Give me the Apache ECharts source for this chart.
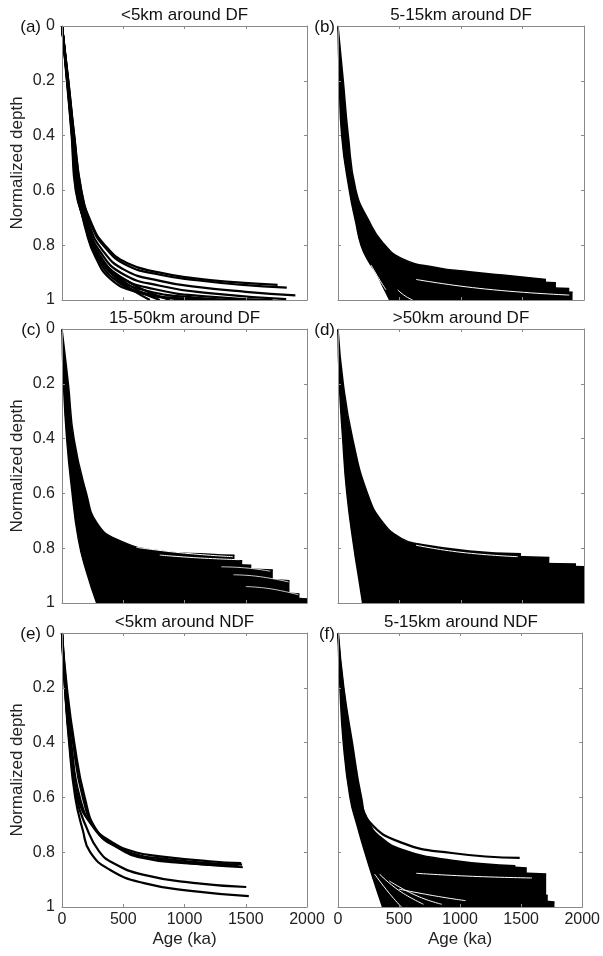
<!DOCTYPE html>
<html>
<head>
<meta charset="utf-8">
<script src="https://cdn.jsdelivr.net/npm/echarts@6/dist/echarts.min.js"></script>
<style>
  html, body { margin: 0; padding: 0; background: #fff; }
  #chart { width: 603px; height: 956px; }
</style>
</head>
<body>
<div id="chart"></div>
<script>
// axis ticks
const ageTicks = [0, 500, 1000, 1500, 2000];
const depthTicks = [0, 0.2, 0.4, 0.6, 0.8, 1];
const panelTitles = ['<5km around DF', '5-15km around DF', '15-50km around DF', '>50km around DF', '<5km around NDF', '5-15km around NDF'];
const panelLetters = ['(a)', '(b)', '(c)', '(d)', '(e)', '(f)'];

// (a) individual age-depth curves [age ka, normalized depth]
const a1 = [[0,0],[52,0.2],[100,0.4],[158,0.6],[240,0.72],[350,0.8],[530,0.865],[800,0.9],[1070,0.92],[1400,0.935],[1760,0.945]];
const a2 = [[0,0],[51,0.2],[99,0.4],[156,0.6],[236,0.722],[345,0.805],[525,0.872],[800,0.908],[1100,0.928],[1450,0.944],[1835,0.955]];
const a3 = [[0,0],[49,0.2],[96,0.4],[150,0.6],[225,0.728],[325,0.815],[510,0.89],[800,0.93],[1100,0.952],[1500,0.97],[1905,0.983]];
const a4 = [[0,0],[48,0.2],[94,0.4],[146,0.6],[218,0.733],[310,0.823],[490,0.903],[800,0.948],[1200,0.975],[1830,0.997]];
const a5 = [[0,0],[47,0.2],[92,0.4],[142,0.6],[212,0.737],[300,0.83],[470,0.913],[750,0.96],[1200,0.988],[1720,1.0]];
const a6 = [[0,0],[46,0.2],[90,0.4],[136,0.6],[205,0.742],[290,0.836],[450,0.92],[700,0.967],[1100,0.992],[1500,1.0]];
const a7 = [[0,0],[45,0.2],[87,0.4],[130,0.6],[200,0.745],[282,0.84],[430,0.925],[650,0.972],[1000,0.995],[1340,1.0]];
const a8 = [[0,0],[44,0.2],[85,0.4],[125,0.6],[198,0.75],[275,0.845],[400,0.925],[600,0.97],[850,0.992],[1124,1.0]];
const a9 = [[0,0],[43,0.2],[83,0.4],[120,0.6],[195,0.73],[265,0.81],[370,0.885],[527,0.93],[700,0.97],[880,1.0]];
const a10 = [[0,0],[42,0.2],[81,0.4],[116,0.6],[192,0.725],[260,0.805],[360,0.875],[480,0.925],[640,0.97],[798,1.0]];
const a11 = [[0,0],[40,0.2],[79,0.4],[112,0.6],[190,0.72],[255,0.8],[350,0.87],[445,0.921],[580,0.965],[717,1.0]];

// (b) dense bundle: upper edge, curve tails, left edge, white gaps
const bUpper = [[0,0],[43,0.2],[84,0.4],[146,0.6],[255,0.714],[363,0.79],[526,0.85],[797,0.881],[1068,0.897],[1339,0.909],[1691,0.925]];
const bTail1 = [[900,0.905],[1300,0.925],[1772,0.937]];
const bTail2 = [[900,0.925],[1400,0.948],[1880,0.958]];
const bTail3 = [[1000,0.945],[1500,0.962],[1907,0.972]];
const bTail4 = [[1000,0.96],[1500,0.975],[1900,0.985]];
const bTail5 = [[1000,0.975],[1500,0.99],[1880,0.997]];
const bLeft = [[0,0],[11,0.2],[30,0.4],[92,0.6],[146,0.72],[187,0.8],[250,0.86],[309,0.9],[365,0.95],[420,1.0]];
const bGap1 = [[634,0.925],[1200,0.96],[1880,0.982]];
const bGap2 = [[268,0.872],[330,0.92],[390,0.963]];
const bGap3 = [[485,0.963],[545,0.985],[607,1.0]];

// (c)
const cUpper = [[0,0],[52,0.2],[98,0.4],[200,0.6],[283,0.706],[445,0.767],[796,0.81],[1204,0.822],[1408,0.826]];
const cTail1 = [[700,0.83],[1100,0.84],[1471,0.846]];
const cTail2 = [[700,0.845],[1100,0.855],[1545,0.862]];
const cTail3 = [[800,0.86],[1300,0.872],[1721,0.88]];
const cTail4 = [[800,0.87],[1200,0.882],[1612,0.891]];
const cTail5 = [[900,0.89],[1400,0.905],[1857,0.919]];
const cTail6 = [[900,0.905],[1400,0.925],[1802,0.937]];
const cTail7 = [[1000,0.93],[1500,0.952],[1938,0.967]];
const cTail8 = [[1000,0.95],[1500,0.97],[2000,0.985]];
const cLeft = [[0,0],[12,0.2],[38,0.4],[79,0.585],[133,0.767],[201,0.888],[283,1.0]];
const cGap1 = [[608,0.797],[1000,0.818],[1395,0.831]];
const cGap2 = [[798,0.825],[1100,0.835],[1450,0.842]];
const cGap3 = [[1300,0.868],[1500,0.872],[1700,0.884]];
const cGap4 = [[1400,0.897],[1600,0.903],[1850,0.923]];
const cGap5 = [[1500,0.94],[1700,0.948],[1930,0.97]];

// (d)
const dUpper = [[0,0],[43,0.2],[119,0.4],[240,0.6],[365,0.706],[526,0.767],[661,0.785],[1068,0.81],[1487,0.82]];
const dTail1 = [[900,0.815],[1300,0.828],[1718,0.834]];
const dTail2 = [[900,0.83],[1400,0.85],[1935,0.858]];
const dTail3 = [[1000,0.845],[1500,0.86],[2000,0.868]];
const dLeft = [[0,0],[11,0.2],[38,0.4],[72,0.6],[130,0.8],[165,0.9],[200,1.0]];
const dGap1 = [[634,0.789],[1000,0.815],[1461,0.831]];

// (e) individual curves
const e1 = [[0,0],[24,0.2],[65,0.4],[130,0.6],[255,0.706],[418,0.766],[600,0.8],[800,0.815],[1205,0.833],[1463,0.84]];
const e2 = [[0,0],[28,0.2],[75,0.4],[145,0.6],[265,0.715],[430,0.775],[620,0.81],[800,0.822],[1200,0.84],[1470,0.845]];
const e3 = [[0,0],[35,0.2],[90,0.4],[170,0.6],[280,0.72],[450,0.78],[640,0.815],[800,0.828],[1200,0.846],[1476,0.855]];
const e4 = [[0,0],[40,0.2],[100,0.4],[185,0.6],[290,0.725],[460,0.785],[650,0.82],[1000,0.84],[1440,0.85]];
const e5 = [[0,0],[26,0.2],[62,0.4],[118,0.6],[200,0.71],[300,0.795],[420,0.84],[660,0.882],[1070,0.912],[1504,0.927]];
const e6 = [[0,0],[24,0.2],[58,0.4],[108,0.6],[170,0.72],[230,0.8],[390,0.864],[660,0.912],[1070,0.942],[1525,0.96]];

// (f)
const fTop = [[0,0],[45,0.2],[115,0.4],[190,0.6],[255,0.688],[526,0.766],[932,0.803],[1488,0.821]];
const fUpper = [[0,0],[44,0.2],[110,0.4],[182,0.6],[260,0.695],[336,0.74],[526,0.79],[932,0.829],[1452,0.849]];
const fTail1 = [[800,0.835],[1200,0.848],[1546,0.858]];
const fTail2 = [[800,0.85],[1300,0.87],[1705,0.88]];
const fTail3 = [[800,0.865],[1200,0.88],[1638,0.893]];
const fTail4 = [[900,0.885],[1300,0.905],[1692,0.925]];
const fTail5 = [[900,0.9],[1300,0.93],[1718,0.958]];
const fTail6 = [[900,0.93],[1400,0.965],[1773,0.982]];
const fTail7 = [[900,0.95],[1300,0.98],[1640,0.998]];
const fLeft = [[0,0],[16,0.2],[43,0.4],[98,0.6],[155,0.7],[220,0.8],[290,0.9],[365,1.0]];
const fGap1 = [[300,0.88],[420,0.95],[520,1.0]];
const fGap2 = [[340,0.88],[500,0.94],[700,0.99]];
const fGap3 = [[420,0.905],[650,0.96],[850,0.99]];
const fGap4 = [[640,0.877],[1100,0.888],[1588,0.894]];
const fGap5 = [[500,0.935],[800,0.96],[1046,0.977]];

const FONT = '"Liberation Sans", Arial, Helvetica, sans-serif';
const AXIS_GRAY = '#8a8a8a';
const TEXT = '#222';

const colLeft = [62, 338];
const colWidth = [245, 246];
const rowTop = [26, 329, 633];
const plotH = 274;

let grids = [], xAxes = [], yAxes = [], series = [], graphics = [];

for (let i = 0; i < 6; i++) {
  const col = i % 2, row = Math.floor(i / 2);
  grids.push({ left: colLeft[col], top: rowTop[row], width: colWidth[col], height: plotH });
  const bottomRow = row === 2, leftCol = col === 0;
  const baseAxis = {
    type: 'value', gridIndex: i, z: 5,
    axisLine: { show: true, onZero: false, lineStyle: { color: AXIS_GRAY, width: 1 } },
    axisTick: { show: true, inside: true, length: 3, lineStyle: { color: AXIS_GRAY } },
    splitLine: { show: false }
  };
  xAxes.push(Object.assign({}, baseAxis, {
    position: 'bottom', min: ageTicks[0], max: ageTicks[ageTicks.length - 1], interval: 500,
    axisLabel: { show: bottomRow, fontSize: 16, color: TEXT, margin: 5, fontFamily: FONT, formatter: v => String(v) },
    name: bottomRow ? 'Age (ka)' : '', nameLocation: 'middle', nameGap: 24,
    nameTextStyle: { fontSize: 17, color: TEXT, fontFamily: FONT }
  }));
  xAxes.push(Object.assign({}, baseAxis, {
    position: 'top', min: 0, max: 2000, interval: 500, axisLabel: { show: false }
  }));
  yAxes.push(Object.assign({}, baseAxis, {
    position: 'left', inverse: true, min: depthTicks[0], max: depthTicks[depthTicks.length - 1], interval: 0.2,
    axisLabel: { show: leftCol, fontSize: 16, color: TEXT, margin: 7, fontFamily: FONT },
    name: leftCol ? 'Normalized depth' : '', nameLocation: 'middle', nameGap: 36,
    nameTextStyle: { fontSize: 17, color: TEXT, fontFamily: FONT }
  }));
  yAxes.push(Object.assign({}, baseAxis, {
    position: 'right', inverse: true, min: 0, max: 1, interval: 0.2, axisLabel: { show: false }
  }));

  const cx = colLeft[col] + colWidth[col] / 2;
  graphics.push({ type: 'text', x: cx, y: rowTop[row] - 11,
    style: { text: panelTitles[i], font: '17px ' + FONT, fill: '#111', textAlign: 'center', textVerticalAlign: 'middle' } });
  graphics.push({ type: 'text', x: leftCol ? 41 : colLeft[col] - 3, y: rowTop[row] + 1,
    style: { text: panelLetters[i], font: '17px ' + FONT, fill: '#111', textAlign: 'right', textVerticalAlign: 'middle' } });
}

function curve(panel, data, opt) {
  opt = opt || {};
  const s = {
    type: 'line', xAxisIndex: panel * 2, yAxisIndex: panel * 2, data: data,
    showSymbol: false, silent: true, smooth: 0.5,
    lineStyle: { color: opt.color || '#000', width: opt.width || 2 }, z: opt.z || 2
  };
  if (opt.fill) s.areaStyle = { color: opt.fill, opacity: 1, origin: 'end' };
  return s;
}

// (a)
[a1, a2, a3, a4, a5, a6, a7, a8, a9, a10, a11].forEach(c => series.push(curve(0, c, { width: 2.2 })));
// (b)
[bUpper, bTail1, bTail2, bTail3, bTail4, bTail5].forEach(c => series.push(curve(1, c, { width: 1.5, fill: '#000' })));
series.push(curve(1, bLeft, { width: 1.5, fill: '#fff', z: 3 }));
[bGap1, bGap2, bGap3].forEach(c => series.push(curve(1, c, { color: '#fff', width: 1, z: 4 })));
// (c)
[cUpper, cTail1, cTail2, cTail3, cTail4, cTail5, cTail6, cTail7, cTail8].forEach(c => series.push(curve(2, c, { width: 1.5, fill: '#000' })));
series.push(curve(2, cLeft, { width: 1.5, fill: '#fff', z: 3 }));
[cGap1, cGap2].forEach(c => series.push(curve(2, c, { color: '#fff', width: 1, z: 4 })));
[cGap3, cGap4, cGap5].forEach(c => series.push(curve(2, c, { color: '#fff', width: 0.8, z: 4 })));
// (d)
[dUpper, dTail1, dTail2, dTail3].forEach(c => series.push(curve(3, c, { width: 1.5, fill: '#000' })));
series.push(curve(3, dLeft, { width: 1.5, fill: '#fff', z: 3 }));
series.push(curve(3, dGap1, { color: '#fff', width: 1, z: 4 }));
// (e)
[e1, e2, e3, e4, e5, e6].forEach(c => series.push(curve(4, c, { width: 2.2 })));
// (f)
[fUpper, fTail1, fTail2, fTail3, fTail4, fTail5, fTail6, fTail7].forEach(c => series.push(curve(5, c, { width: 1.5, fill: '#000' })));
series.push(curve(5, fLeft, { width: 1.5, fill: '#fff', z: 3 }));
[fGap1, fGap2, fGap3, fGap4, fGap5].forEach(c => series.push(curve(5, c, { color: '#fff', width: 1, z: 4 })));
series.push(curve(5, fTop, { width: 2.2, z: 4 }));

const chart = echarts.init(document.getElementById('chart'), null, { renderer: 'canvas' });
chart.setOption({
  backgroundColor: '#fff',
  animation: false,
  textStyle: { fontFamily: FONT },
  grid: grids,
  xAxis: xAxes,
  yAxis: yAxes,
  graphic: graphics,
  series: series
});
</script>
</body>
</html>
